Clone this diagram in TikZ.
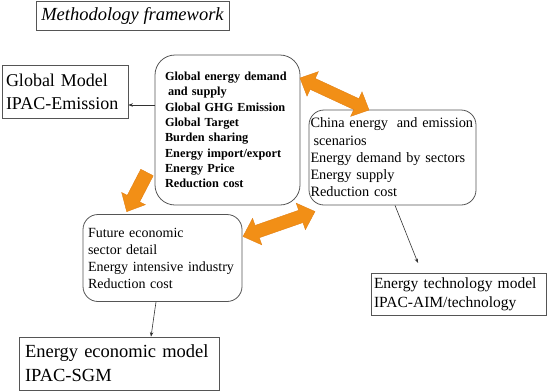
\documentclass[tikz,border=0pt]{standalone}
\usepackage{fontspec}
\setmainfont{Liberation Serif}
\usetikzlibrary{arrows.meta,calc}
\definecolor{boxline}{RGB}{85,85,85}
\definecolor{orangefill}{RGB}{242,143,22}
\definecolor{orangeline}{RGB}{226,128,20}
\definecolor{linkline}{RGB}{50,50,50}
\begin{document}
\begin{tikzpicture}[x=1pt,y=-1pt,
  sqbox/.style={draw=boxline,line width=0.8pt,inner ysep=0pt,align=left},
  rbox/.style={draw=boxline,line width=0.8pt,inner ysep=0pt,align=left},
  link/.style={draw=linkline,line width=0.6pt,-{Stealth[length=4.5pt,width=3.5pt]}},
  blockarrow/.style={fill=orangefill,draw=orangeline,line width=0.4pt}]
\useasboundingbox (0,0) rectangle (548,391);

\node[sqbox, minimum width=193pt, minimum height=29pt, inner xsep=0pt, align=center,
      font=\fontsize{18.5}{22}\selectfont\itshape] (title) at (132.5,15.5) {Methodology framework};

\node[sqbox, text width=118pt, inner xsep=4pt, minimum height=53pt,
      font=\fontsize{18}{23}\selectfont] (gm) at (65,91.5) {Global Model\\IPAC-Emission};

\node[rbox, rounded corners=20pt, text width=125pt, inner xsep=10pt, minimum height=150pt,
      font=\fontsize{12.3}{15.3}\selectfont\bfseries] (cbox) at (227.5,130)
  {Global energy demand\\\hspace*{3pt}and supply\\Global GHG Emission\\Global Target\\Burden sharing\\Energy import/export\\Energy Price\\Reduction cost};

\node[rbox, rounded corners=15pt, text width=164pt, inner xsep=1.5pt, minimum height=95pt,
      font=\fontsize{14.3}{17.3}\selectfont] (china) at (392.5,157.5)
  {China energy\hspace{4pt} and emission\\\hspace*{3pt}scenarios\\Energy demand by sectors\\Energy supply\\Reduction cost};

\node[rbox, rounded corners=15pt, text width=149pt, inner xsep=5pt, minimum height=87pt,
      font=\fontsize{14}{17}\selectfont] (fut) at (162.5,258)
  {Future economic\\sector detail\\Energy intensive industry\\Reduction cost};

\node[sqbox, text width=188pt, inner xsep=6pt, minimum height=53pt,
      font=\fontsize{18.5}{24}\selectfont] (eem) at (119,363.5) {Energy economic model\\IPAC-SGM};

\node[sqbox, text width=169pt, inner xsep=3pt, minimum height=42pt,
      font=\fontsize{15.5}{19}\selectfont] (etm) at (458.5,294) {Energy technology model\\IPAC-AIM/technology};

% thin connectors
\draw[link] ([yshift=25pt]cbox.west) -- ([yshift=25pt]cbox.west -| gm.east);
\draw[link] ([xshift=-6.5pt]fut.south) -- ([xshift=32pt]eem.north);
\coordinate (etmin) at (418,263);
\draw[link] ([xshift=2.5pt]china.south) -- (etmin);

% orange block arrows
\coordinate (a1s) at (300,78);
\begin{scope}[shift={(a1s)}, rotate=-24.88]
  \draw[blockarrow] (0,0) -- (14,13.5) -- (14,6) -- (62.1,6) -- (62.1,13.5) -- (76.1,0)
    -- (62.1,-13.5) -- (62.1,-6) -- (14,-6) -- (14,-13.5) -- cycle;
\end{scope}
\coordinate (a2s) at (147,172.5);
\begin{scope}[shift={(a2s)}, rotate=-117.4]
  \draw[blockarrow] (0,7) -- (29.4,7) -- (29.4,13.3) -- (44.1,0) -- (29.4,-13.3) -- (29.4,-7) -- (0,-7) -- cycle;
\end{scope}
\coordinate (a3s) at (243,236.5);
\begin{scope}[shift={(a3s)}, rotate=19.15]
  \draw[blockarrow] (0,0) -- (15,14) -- (15,6.5) -- (61.2,6.5) -- (61.2,14) -- (76.2,0)
    -- (61.2,-14) -- (61.2,-6.5) -- (15,-6.5) -- (15,-14) -- cycle;
\end{scope}
\end{tikzpicture}
\end{document}
